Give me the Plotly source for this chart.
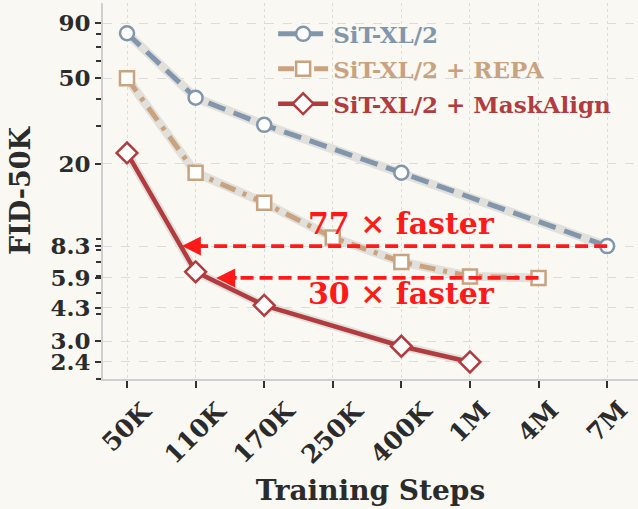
import math
import plotly.graph_objects as go

# ---------------- data ----------------
categories = ["50K", "110K", "170K", "250K", "400K", "1M", "4M", "7M"]

sit_steps = ["50K", "110K", "170K", "400K", "7M"]
sit_fid = [81.0, 40.6, 30.4, 18.2, 8.3]

repa_steps = ["50K", "110K", "170K", "250K", "400K", "1M", "4M"]
repa_fid = [50.0, 18.2, 13.2, 9.1, 7.0, 6.0, 5.9]

mask_steps = ["50K", "110K", "170K", "400K", "1M"]
mask_fid = [22.5, 6.3, 4.4, 2.84, 2.4]

y_ticks = [2.4, 3.0, 4.3, 5.9, 8.3, 20, 50, 90]
y_ticklabels = ["2.4", "3.0", "4.3", "5.9", "8.3", "20", "50", "90"]
y_minor = [2, 3, 4, 5, 6, 7, 8, 9, 20, 30, 40, 50, 60, 70, 80, 90]

# speed-up arrows: (start category, end position index, FID level, label, label FID)
arrow_77 = {"from": "7M", "to_idx": 0.8, "fid": 8.3, "label": "77 × faster", "label_fid": 10.6}
arrow_30 = {"from": "4M", "to_idx": 1.3, "fid": 5.9, "label": "30 × faster", "label_fid": 5.0}

# ---------------- styles ----------------
BG = "#f9f8f3"
C_SIT = "#8196ad"
C_REPA = "#c9a27f"
C_MASK = "#b13b3f"
C_ARROW = "#ff1a1a"
HALO = "#e1e0db"
FONT = "DejaVu Serif"
TXT = "#2b2b2b"


def idx(labels):
    return [categories.index(s) for s in labels]


fig = go.Figure()

series = [
    ("SiT-XL/2", sit_steps, sit_fid, C_SIT, "18px,9px", "circle", 5),
    ("SiT-XL/2 + REPA", repa_steps, repa_fid, C_REPA, "16px,8px,4px,8px", "square", 5),
    ("SiT-XL/2 + MaskAlign", mask_steps, mask_fid, C_MASK, "solid", "diamond", 4.5),
]

for name, steps, vals, col, dash, sym, w in series:
    fig.add_trace(go.Scatter(
        x=idx(steps), y=vals, mode="lines", showlegend=False, hoverinfo="skip",
        line=dict(color=HALO, width=w + 4),
    ))
    fig.add_trace(go.Scatter(
        x=idx(steps), y=vals, mode="lines+markers",
        name=f"<span style='color:{col}'>{name}</span>",
        legendgroup=name,
        line=dict(color=col, width=w, dash=dash),
        marker=dict(symbol=sym, size=14 if sym != "diamond" else 16,
                    color="white", line=dict(color=col, width=2.5)),
    ))

# speed-up arrows (dashed lines + heads)
for a in (arrow_77, arrow_30):
    x0 = categories.index(a["from"])
    fig.add_trace(go.Scatter(
        x=[x0, a["to_idx"] + 0.12], y=[a["fid"], a["fid"]], mode="lines",
        showlegend=False, hoverinfo="skip",
        line=dict(color=C_ARROW, width=3.8, dash="13px,6px"),
    ))
    fig.add_annotation(
        x=a["to_idx"], y=math.log10(a["fid"]), xref="x", yref="y",
        ax=22, ay=0, text="", showarrow=True,
        arrowhead=2, arrowsize=1.0, arrowwidth=3.8, arrowcolor=C_ARROW,
    )
    fig.add_annotation(
        x=4, y=math.log10(a["label_fid"]), xref="x", yref="y",
        text=a["label"], showarrow=False,
        font=dict(family=FONT, size=30, color=C_ARROW, weight="bold"),
    )

# rotated x tick labels, centred under each tick
for i, lab in enumerate(categories):
    fig.add_annotation(
        x=i, y=0, xref="x", yref="paper", xanchor="center", yanchor="top",
        yshift=-14, text=lab, textangle=-45, showarrow=False,
        font=dict(family=FONT, size=25, color=TXT, weight="bold"),
    )

fig.update_layout(
    width=638, height=509,
    margin=dict(l=103, r=0, t=3, b=130),
    paper_bgcolor=BG, plot_bgcolor=BG,
    font=dict(family=FONT, size=22, color=TXT, weight="bold"),
    legend=dict(
        x=0.318, y=0.975, xanchor="left", yanchor="top",
        bgcolor="rgba(0,0,0,0)", itemwidth=50,
        font=dict(family=FONT, size=23, weight="bold"),
        tracegroupgap=2,
    ),
    showlegend=True,
)

fig.update_xaxes(
    range=[-0.35, 7.45],
    tickmode="array", tickvals=list(range(len(categories))), ticktext=categories,
    showticklabels=False,
    ticks="outside", ticklen=7, tickwidth=2, tickcolor="#333333",
    showline=True, linecolor="#cfcfcf", linewidth=2,
    showgrid=True, gridcolor="#dcdcdc", griddash="dot", gridwidth=1,
    zeroline=False,
    title=dict(text="Training Steps", standoff=93,
               font=dict(family=FONT, size=28, color=TXT, weight="bold")),
)

fig.update_yaxes(
    type="log", range=[math.log10(2.0), math.log10(112)],
    tickmode="array", tickvals=y_ticks, ticktext=y_ticklabels,
    tickfont=dict(family=FONT, size=23, color=TXT, weight="bold"),
    ticks="outside", ticklen=6, tickwidth=2, tickcolor="#333333",
    minor=dict(tickmode="array", tickvals=y_minor, ticks="outside",
               ticklen=5, tickwidth=1.5, tickcolor="#333333", showgrid=False),
    showline=True, linecolor="#cfcfcf", linewidth=2,
    showgrid=True, gridcolor="#dcdcdc", griddash="dash", gridwidth=1,
    zeroline=False,
    title=dict(text="FID-50K", standoff=12,
               font=dict(family=FONT, size=27, color=TXT, weight="bold")),
)

fig.write_html("out.html")
